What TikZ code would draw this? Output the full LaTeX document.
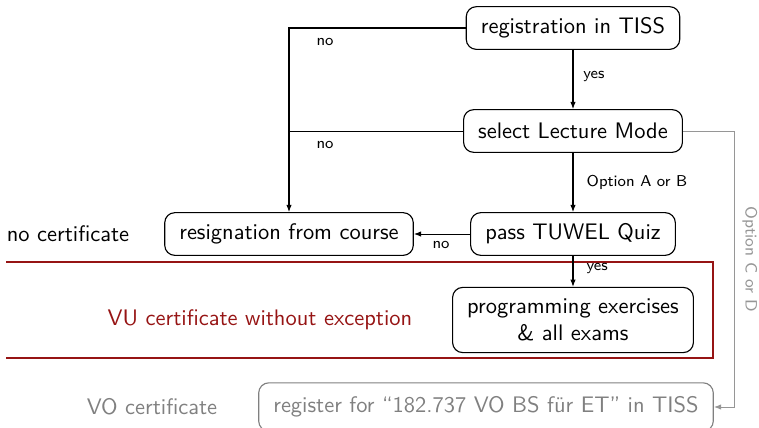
\documentclass[tikz,border=0pt]{standalone}
\usepackage{fontspec}
\usetikzlibrary{arrows.meta}
\definecolor{vured}{RGB}{150,20,20}
\definecolor{vogray}{RGB}{128,128,128}
\definecolor{optgray}{RGB}{150,150,150}
\begin{document}
\begin{tikzpicture}[x=0.445pt,y=-0.445pt,
  font=\sffamily,
  box/.style={draw=black, line width=0.5pt, rounded corners=4.5pt, minimum height=19pt, inner xsep=6.5pt, align=center},
  vobox/.style={box, draw=vogray, text=vogray, minimum height=21.5pt},
  conn/.style={line width=0.45pt},
  arr/.style={conn, -{Latex[length=3.2pt,width=2.4pt]}},
  grayarr/.style={line width=0.45pt, draw=optgray, -{Latex[length=3.2pt,width=2.4pt]}},
  lab/.style={font=\sffamily\scriptsize, inner sep=1pt}]
\useasboundingbox (0,0) rectangle (759,427);
% red region (open on the left)
\draw[vured, line width=0.5pt] (6,262) -- (713,262) -- (713,358) -- (6,358);
% nodes
\node[box] (reg) at (573,28) {registration in TISS};
\node[box] (sel) at (573,131) {select Lecture Mode};
\node[box] (quiz) at (573,234) {pass TUWEL Quiz};
\node[box] (resign) at (289,234) {resignation from course};
\node[box, minimum height=29pt] (prog) at (573,320) {programming exercises\\\& all exams};
\node[vobox] (vo) at (486,407) {register for “182.737 VO BS für ET” in TISS};
\node (nocert) at (68,234) {no certificate};
\node[text=vured] (vucert) at (260,320) {VU certificate without exception};
\node[text=vogray] (vocert) at (152,407) {VO certificate};
% connectors
\draw[arr] (reg.west) -| (resign.north);
\draw[conn] (sel.west) -- (sel.west -| resign.north);
\draw[arr] (reg.south) -- (sel.north);
\draw[arr] (sel.south) -- (quiz.north);
\draw[arr] (quiz.west) -- (resign.east);
\draw[arr] (quiz.south) -- (prog.north);
\coordinate (gx) at (734,0);
\draw[grayarr] (sel.east) -- (sel.east -| gx) -- (vo.east -| gx) -- (vo.east);
% labels
\node[lab] (l1) at (325,42) {no};
\node[lab] (l2) at (325,145) {no};
\node[lab] (l3) at (594,76) {yes};
\node[lab, anchor=west] (l4) at (584,182) {Option A or B};
\node[lab] (l5) at (441,245) {no};
\node[lab, anchor=west] (l6) at (584,268) {yes};
\node[text=optgray, rotate=-90, font=\sffamily\fontsize{7.3}{9}\selectfont] (l7) at (750,259) {Option C or D};
\end{tikzpicture}
\end{document}
